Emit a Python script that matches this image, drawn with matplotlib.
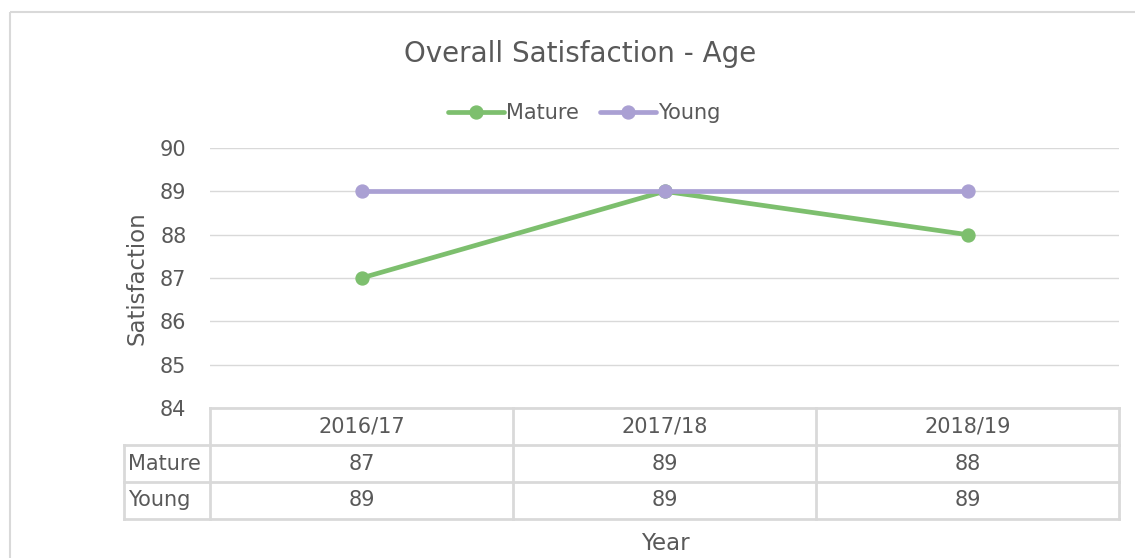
import matplotlib.pyplot as plt
from matplotlib.patches import Rectangle
from matplotlib.transforms import blended_transform_factory

years = ["2016/17", "2017/18", "2018/19"]
mature = [87, 89, 88]
young = [89, 89, 89]
series_names = ["Mature", "Young"]

W, H = 1135, 558
GREEN = "#7DBF6E"
PURPLE = "#AAA0D3"
TXT = "#595959"
GRID = "#D9D9D9"
FS = 15

fig = plt.figure(figsize=(W / 100, H / 100), dpi=100)
fig.patch.set_facecolor("white")

# outer chart border
fig.patches.append(Rectangle((10 / W, 1 - 12 / H), 1.2, -1.2, transform=fig.transFigure,
                             fill=False, edgecolor=GRID, lw=1.5))

ax = fig.add_axes([210 / W, (H - 408) / H, 909 / W, 260 / H])
x = list(range(len(years)))
ax.plot(x, mature, color=GREEN, lw=3.4, marker="o", ms=9.3, label=series_names[0], solid_capstyle="round")
ax.plot(x, young, color=PURPLE, lw=3.4, marker="o", ms=9.3, label=series_names[1], solid_capstyle="round")

ax.set_xlim(-0.5, len(years) - 0.5)
ax.set_ylim(84, 90)
ax.set_yticks(range(84, 91))
ax.set_xticks([])
ax.grid(axis="y", color=GRID, lw=1.0)
ax.set_axisbelow(True)
for s in ax.spines.values():
    s.set_visible(False)
ax.tick_params(axis="y", length=0, pad=17, labelsize=FS, labelcolor=TXT)
ax.set_ylabel("Satisfaction", fontsize=16.5, color=TXT, labelpad=8)

fig.text(580 / W, 1 - 54 / H, "Overall Satisfaction - Age", ha="center", va="center", fontsize=20, color=TXT)

leg = ax.legend(loc="center", bbox_to_anchor=(584 / W, 1 - 113 / H), bbox_transform=fig.transFigure,
                ncol=2, frameon=False, fontsize=FS, handlelength=2.7, handletextpad=0.1,
                columnspacing=1.0, labelcolor=TXT)

# data table under the plot
tr = blended_transform_factory(ax.transData, ax.transAxes)
rh = 37 / 260
lab_w = 86 / 303
rows = [mature, young]
kw = dict(color=GRID, lw=2, transform=tr, clip_on=False)
# horizontal lines
ax.plot([-0.5, 2.5], [0, 0], **kw)
for i in range(1, 4):
    ax.plot([-0.5 - lab_w, 2.5], [-i * rh, -i * rh], **kw)
# vertical lines
for xv in [-0.5, 0.5, 1.5, 2.5]:
    ax.plot([xv, xv], [0, -3 * rh], **kw)
ax.plot([-0.5 - lab_w, -0.5 - lab_w], [-rh, -3 * rh], **kw)

for i, yr in enumerate(years):
    ax.text(i, -0.5 * rh, yr, transform=tr, ha="center", va="center", fontsize=FS, color=TXT)
for r, (name, vals) in enumerate(zip(series_names, rows)):
    yc = -(r + 1.5) * rh
    ax.text(-0.5 - lab_w + 0.013, yc, name, transform=tr, ha="left", va="center", fontsize=FS, color=TXT)
    for i, v in enumerate(vals):
        ax.text(i, yc, str(v), transform=tr, ha="center", va="center", fontsize=FS, color=TXT)

fig.text(665 / W, 1 - 543 / H, "Year", ha="center", va="center", fontsize=16.5, color=TXT)

fig.savefig("out.png", dpi=100)
